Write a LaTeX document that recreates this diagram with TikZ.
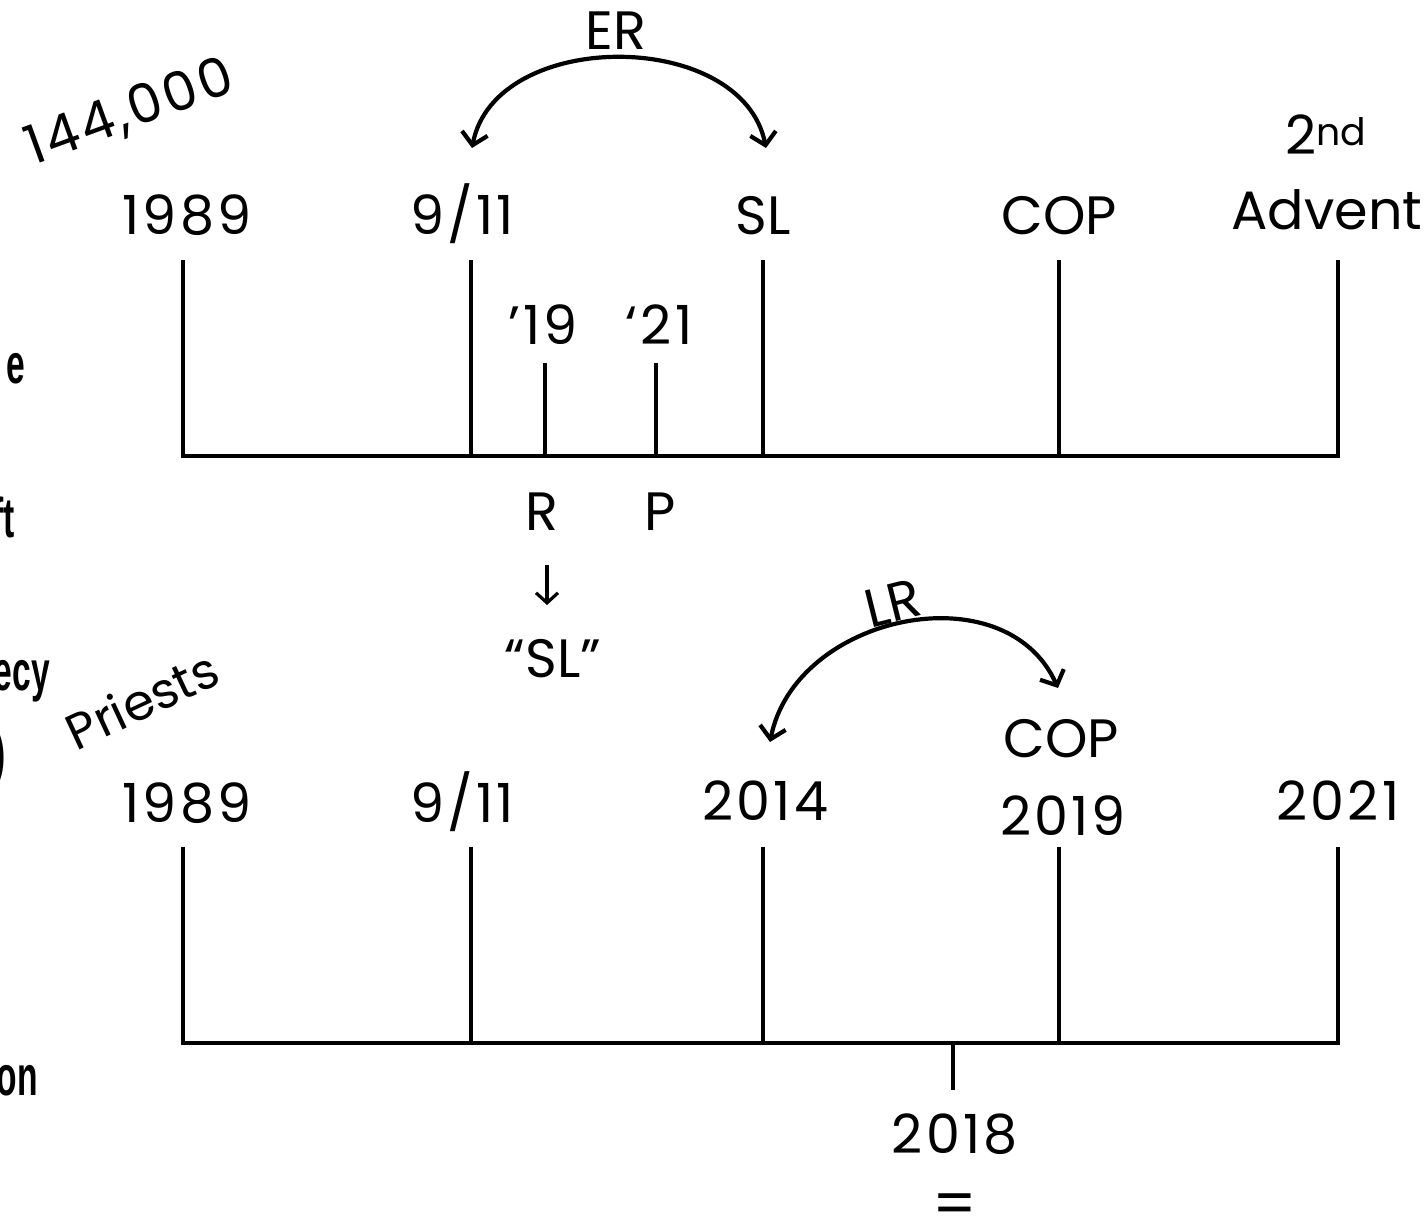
\documentclass[tikz,border=0pt]{standalone}
\usepackage{fontspec}
\setmainfont{Poppins}
\newfontfamily\digfont[LetterSpace=6]{Poppins}
\newfontfamily\condfont[FakeStretch=0.6]{Liberation Sans}
\usetikzlibrary{arrows.meta}
\begin{document}
\begin{tikzpicture}[x=1pt,y=-1pt,
  lbl/.style={inner sep=0pt, anchor=base, font=\fontsize{54}{60}\selectfont},
  num/.style={lbl, font=\digfont\fontsize{54}{60}\selectfont},
  side/.style={inner sep=0pt, anchor=base east, font=\condfont\bfseries\fontsize{56}{60}\selectfont},
  tick/.style={line width=4.2pt},
  bar/.style={line width=4.2pt, line cap=rect},
  curv/.style={line width=4.2pt, {Straight Barb[length=12pt,width=26pt,line width=4.2pt]}-{Straight Barb[length=12pt,width=26pt,line width=4.2pt]}},
  down/.style={line width=3.2pt, -{Straight Barb[length=10pt,width=22pt,line width=3.2pt]}}]
\useasboundingbox (0,0) rectangle (1427,1222);

% ---------- top timeline ----------
\foreach \n/\x in {a/183,b/471,c/763,d/1059,e/1338}{
  \coordinate (T\n-top) at (\x,260);
  \coordinate (T\n-bot) at (\x,456);
}
\coordinate (Tr-top) at (545,363); \coordinate (Tr-bot) at (545,456);
\coordinate (Tp-top) at (656,363); \coordinate (Tp-bot) at (656,456);
\draw[bar] (Ta-bot) -- (Te-bot);
\foreach \n in {a,b,c,d,e,r,p}{ \draw[tick] (T\n-top) -- (T\n-bot); }

\node[num] (l1989a) at (187,235) {1989};
\node[num] (l911a) at (462,235) {9/11};
\node[lbl] (lSL) at (763,235) {SL};
\node[lbl] (lCOPa) at (1059,235) {COP};
\node[lbl] (l2nd) at (1326,155) {2\textsuperscript{nd}};
\node[lbl] (lAdv) at (1327,230) {Advent};
\node[num] (l19) at (543,345) {’19};
\node[num] (l21) at (659,345) {‘21};
\node[lbl] (lR) at (542,530) {R};
\node[lbl] (lP) at (660,530) {P};
\node[lbl] (lqSL) at (553,677) {“SL”};
\coordinate (rd1) at (547,565);
\coordinate (rd2) at (547,605);
\draw[down] (rd1) -- (rd2);
\node[lbl] (lER) at (616,50) {ER};
\node[num, anchor=center, rotate=20] (l144) at (130,113) {144,000};

\coordinate (erL) at (472,148);
\coordinate (erR) at (766,148);
\draw[curv] (erL) .. controls (495,28) and (742,28) .. (erR);

% ---------- bottom timeline ----------
\foreach \n/\x in {a/183,b/471,c/763,d/1059,e/1338}{
  \coordinate (B\n-top) at (\x,847);
  \coordinate (B\n-bot) at (\x,1043);
}
\coordinate (Bx-top) at (953,1043); \coordinate (Bx-bot) at (953,1090);
\draw[bar] (Ba-bot) -- (Be-bot);
\foreach \n in {a,b,c,d,e,x}{ \draw[tick] (B\n-top) -- (B\n-bot); }

\node[num] (l1989b) at (187,822) {1989};
\node[num] (l911b) at (462,822) {9/11};
\node[num] (l2014) at (765,820) {2014};
\node[lbl] (lCOPb) at (1061,757) {COP};
\node[num] (l2019) at (1063,835) {2019};
\node[num] (l2021) at (1338,820) {2021};
\node[num] (l2018) at (955,1153) {2018};
\node[lbl, anchor=center, font=\fontsize{62}{62}\selectfont] (leq) at (955,1210) {=};
\node[lbl, anchor=center, rotate=14] (lLR) at (893,603) {LR};
\node[lbl, anchor=center, rotate=25, font=\fontsize{50}{60}\selectfont] (lPriests) at (142,700) {Priests};

\coordinate (lrL) at (770,742);
\coordinate (lrR) at (1058,688);
\draw[curv] (lrL) .. controls (795,615) and (1005,570) .. (lrR);

% ---------- clipped side texts ----------
\node[side] (se) at (25,384) {e};
\node[side] (sft) at (15,537) {ft};
\node[side] (secy) at (50,690) {ecy};
\node[side] (spar) at (6,772) {)};
\node[side] (son) at (38,1095) {on};
\end{tikzpicture}
\end{document}
